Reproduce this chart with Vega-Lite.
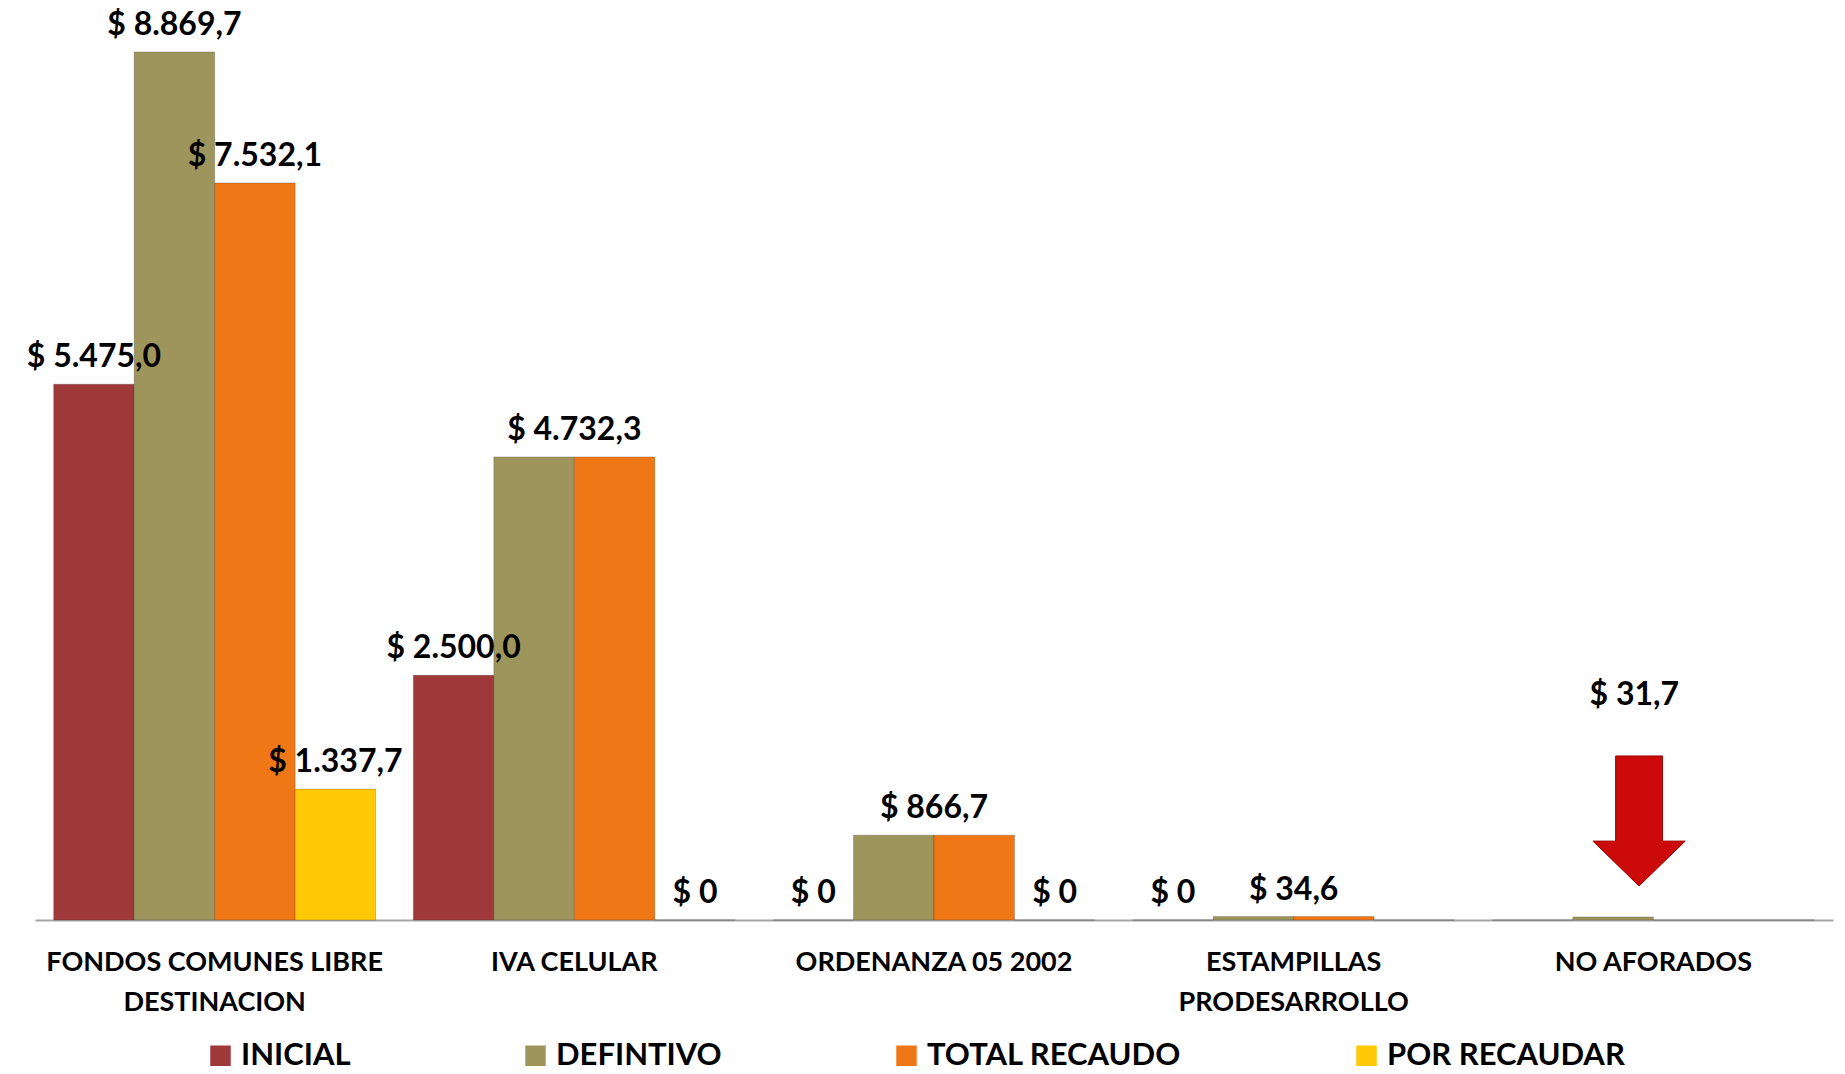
{
  "$schema": "https://vega.github.io/schema/vega-lite/v6.json",
  "width": 1798,
  "height": 868,
  "autosize": {"type": "none"},
  "padding": {"left": 35, "top": 52, "right": 12, "bottom": 154},
  "background": "white",
  "config": {"view": {"stroke": null}, "font": "Lato"},
  "datasets": {
    "barras": [
      {"categoria": "FONDOS COMUNES LIBRE DESTINACION", "serie": "INICIAL", "valor": 5475.0},
      {"categoria": "FONDOS COMUNES LIBRE DESTINACION", "serie": "DEFINTIVO", "valor": 8869.7},
      {"categoria": "FONDOS COMUNES LIBRE DESTINACION", "serie": "TOTAL RECAUDO", "valor": 7532.1},
      {"categoria": "FONDOS COMUNES LIBRE DESTINACION", "serie": "POR RECAUDAR", "valor": 1337.7},
      {"categoria": "IVA CELULAR", "serie": "INICIAL", "valor": 2500.0},
      {"categoria": "IVA CELULAR", "serie": "DEFINTIVO", "valor": 4732.3},
      {"categoria": "IVA CELULAR", "serie": "TOTAL RECAUDO", "valor": 4732.3},
      {"categoria": "IVA CELULAR", "serie": "POR RECAUDAR", "valor": 0},
      {"categoria": "ORDENANZA 05 2002", "serie": "INICIAL", "valor": 0},
      {"categoria": "ORDENANZA 05 2002", "serie": "DEFINTIVO", "valor": 866.7},
      {"categoria": "ORDENANZA 05 2002", "serie": "TOTAL RECAUDO", "valor": 866.7},
      {"categoria": "ORDENANZA 05 2002", "serie": "POR RECAUDAR", "valor": 0},
      {"categoria": "ESTAMPILLAS PRODESARROLLO", "serie": "INICIAL", "valor": 0},
      {"categoria": "ESTAMPILLAS PRODESARROLLO", "serie": "DEFINTIVO", "valor": 34.6},
      {"categoria": "ESTAMPILLAS PRODESARROLLO", "serie": "TOTAL RECAUDO", "valor": 34.6},
      {"categoria": "ESTAMPILLAS PRODESARROLLO", "serie": "POR RECAUDAR", "valor": 0},
      {"categoria": "NO AFORADOS", "serie": "INICIAL", "valor": 0},
      {"categoria": "NO AFORADOS", "serie": "DEFINTIVO", "valor": 31.7},
      {"categoria": "NO AFORADOS", "serie": "TOTAL RECAUDO", "valor": 0},
      {"categoria": "NO AFORADOS", "serie": "POR RECAUDAR", "valor": 0}
    ],
    "etiquetas": [
      {"categoria": "FONDOS COMUNES LIBRE DESTINACION", "posicion": "INICIAL", "valor": 5475.0, "etiqueta": "$ 5.475,0"},
      {"categoria": "FONDOS COMUNES LIBRE DESTINACION", "posicion": "DEFINTIVO", "valor": 8869.7, "etiqueta": "$ 8.869,7"},
      {"categoria": "FONDOS COMUNES LIBRE DESTINACION", "posicion": "TOTAL RECAUDO", "valor": 7532.1, "etiqueta": "$ 7.532,1"},
      {"categoria": "FONDOS COMUNES LIBRE DESTINACION", "posicion": "POR RECAUDAR", "valor": 1337.7, "etiqueta": "$ 1.337,7"},
      {"categoria": "IVA CELULAR", "posicion": "INICIAL", "valor": 2500.0, "etiqueta": "$ 2.500,0"},
      {"categoria": "IVA CELULAR", "posicion": "DEFINTIVO|TOTAL RECAUDO", "valor": 4732.3, "etiqueta": "$ 4.732,3"},
      {"categoria": "IVA CELULAR", "posicion": "POR RECAUDAR", "valor": 0, "etiqueta": "$ 0"},
      {"categoria": "ORDENANZA 05 2002", "posicion": "INICIAL", "valor": 0, "etiqueta": "$ 0"},
      {"categoria": "ORDENANZA 05 2002", "posicion": "DEFINTIVO|TOTAL RECAUDO", "valor": 866.7, "etiqueta": "$ 866,7"},
      {"categoria": "ORDENANZA 05 2002", "posicion": "POR RECAUDAR", "valor": 0, "etiqueta": "$ 0"},
      {"categoria": "ESTAMPILLAS PRODESARROLLO", "posicion": "INICIAL", "valor": 0, "etiqueta": "$ 0"},
      {"categoria": "ESTAMPILLAS PRODESARROLLO", "posicion": "DEFINTIVO|TOTAL RECAUDO", "valor": 34.6, "etiqueta": "$ 34,6"}
    ],
    "flecha": [
      {"categoria": "NO AFORADOS", "posicion": "DEFINTIVO|TOTAL RECAUDO", "valor": 1012, "etiqueta": "$ 31,7"}
    ]
  },
  "layer": [
    {
      "data": {"name": "barras"},
      "mark": {"type": "bar", "stroke": "#00000033", "strokeWidth": 1},
      "encoding": {
        "x": {
          "field": "categoria", "type": "nominal", "sort": null,
          "scale": {"domain": ["FONDOS COMUNES LIBRE DESTINACION", "IVA CELULAR", "ORDENANZA 05 2002", "ESTAMPILLAS PRODESARROLLO", "NO AFORADOS"], "paddingInner": 0.105, "paddingOuter": 0.052},
          "axis": {
            "title": null, "domain": true, "domainColor": "#A6A6A6", "domainWidth": 2, "ticks": false,
            "labelFont": "Lato", "labelFontWeight": "bold", "labelFontSize": 27, "labelColor": "#000000",
            "labelAngle": 0, "labelPadding": 29, "labelLineHeight": 40, "labelLimit": 0,
            "labelExpr": "datum.label == 'FONDOS COMUNES LIBRE DESTINACION' ? ['FONDOS COMUNES LIBRE', 'DESTINACION'] : datum.label == 'ESTAMPILLAS PRODESARROLLO' ? ['ESTAMPILLAS', 'PRODESARROLLO'] : datum.label"
          }
        },
        "xOffset": {
          "field": "serie", "type": "nominal",
          "scale": {"domain": ["INICIAL", "DEFINTIVO", "TOTAL RECAUDO", "POR RECAUDAR"], "paddingInner": 0, "paddingOuter": 0}
        },
        "y": {"field": "valor", "type": "quantitative", "scale": {"domain": [0, 8869.7], "nice": false, "zero": true}, "axis": null},
        "color": {
          "field": "serie", "type": "nominal",
          "scale": {"domain": ["INICIAL", "DEFINTIVO", "TOTAL RECAUDO", "POR RECAUDAR"], "range": ["#A03A3A", "#9E955C", "#F07715", "#FFC907"]},
          "legend": {
            "title": null, "orient": "none", "direction": "horizontal", "legendX": 170, "legendY": 988,
            "symbolType": "square", "symbolSize": 420, "symbolStrokeWidth": 0, "symbolOpacity": 1,
            "labelFont": "Lato", "labelFontWeight": "bold", "labelFontSize": 31, "labelColor": "#000000",
            "labelOffset": 5, "columnPadding": 169, "labelLimit": 0
          }
        }
      }
    },
    {
      "data": {"name": "etiquetas"},
      "mark": {"type": "text", "font": "Lato", "fontWeight": "bold", "fontSize": 32, "baseline": "middle", "dy": -27, "color": "#000000"},
      "encoding": {
        "x": {"field": "categoria", "type": "nominal", "sort": null},
        "xOffset": {
          "field": "posicion", "type": "nominal",
          "scale": {"type": "band", "domain": ["INICIAL", "INICIAL|DEFINTIVO", "DEFINTIVO", "DEFINTIVO|TOTAL RECAUDO", "TOTAL RECAUDO", "TOTAL RECAUDO|POR RECAUDAR", "POR RECAUDAR"], "paddingInner": 0, "paddingOuter": 0.5}
        },
        "y": {"field": "valor", "type": "quantitative"},
        "text": {"field": "etiqueta"}
      }
    },
    {
      "data": {"name": "flecha"},
      "mark": {"type": "point", "shape": "M-0.58,-1 L0.14,-1 L0.14,0.31 L0.49,0.31 L-0.22,1 L-0.93,0.31 L-0.58,0.31 Z", "size": 16900, "filled": true, "color": "#CC0A0A", "opacity": 1, "stroke": "#9A0000", "strokeWidth": 1},
      "encoding": {
        "x": {"field": "categoria", "type": "nominal", "sort": null},
        "xOffset": {
          "field": "posicion", "type": "nominal",
          "scale": {"type": "band", "domain": ["INICIAL", "INICIAL|DEFINTIVO", "DEFINTIVO", "DEFINTIVO|TOTAL RECAUDO", "TOTAL RECAUDO", "TOTAL RECAUDO|POR RECAUDAR", "POR RECAUDAR"], "paddingInner": 0, "paddingOuter": 0.5}
        },
        "y": {"field": "valor", "type": "quantitative"}
      }
    },
    {
      "data": {"name": "flecha"},
      "mark": {"type": "text", "font": "Lato", "fontWeight": "bold", "fontSize": 32, "baseline": "middle", "dy": -126, "dx": -19, "color": "#000000"},
      "encoding": {
        "x": {"field": "categoria", "type": "nominal", "sort": null},
        "xOffset": {
          "field": "posicion", "type": "nominal",
          "scale": {"type": "band", "domain": ["INICIAL", "INICIAL|DEFINTIVO", "DEFINTIVO", "DEFINTIVO|TOTAL RECAUDO", "TOTAL RECAUDO", "TOTAL RECAUDO|POR RECAUDAR", "POR RECAUDAR"], "paddingInner": 0, "paddingOuter": 0.5}
        },
        "y": {"field": "valor", "type": "quantitative"},
        "text": {"field": "etiqueta"}
      }
    }
  ],
  "resolve": {"scale": {"xOffset": "independent"}}
}
